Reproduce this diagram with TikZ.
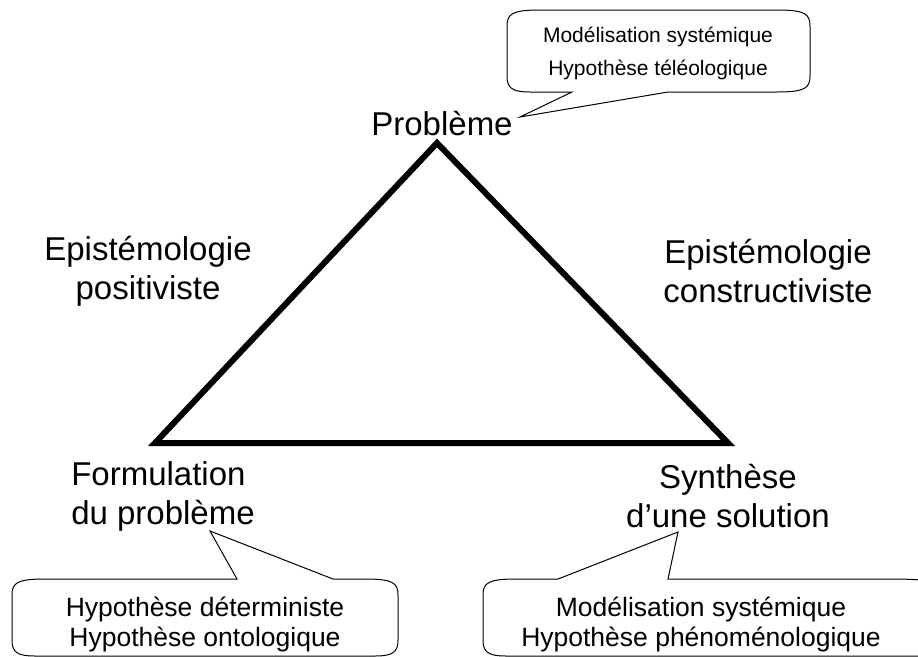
\documentclass[tikz,border=0pt]{standalone}
\usepackage{fontspec}
\setmainfont{Liberation Sans}
\begin{document}
\begin{tikzpicture}[x=1pt,y=-1pt,
  biglabel/.style={font=\fontsize{33}{39}\selectfont, align=center, inner sep=0pt},
  calltext/.style={font=\fontsize{26.5}{30}\selectfont, align=center, inner sep=0pt},
  smallcalltext/.style={font=\fontsize{21}{33}\selectfont, align=center, inner sep=0pt},
  callout/.style={draw=black, line width=1pt, fill=white},
  tri/.style={draw=black, line width=6pt, line join=miter}]
\useasboundingbox (0,0) rectangle (918,656);
% triangle corners
\coordinate (A) at (437,143);
\coordinate (B) at (155,443);
\coordinate (C) at (728,443);
\draw[tri] (A) -- (B) -- (C) -- cycle;
% labels
\node[biglabel] (prob) at (442,124) {Problème};
\node[biglabel] (pos) at (148,271) {Epistémologie\\positiviste};
\node[biglabel] (cons) at (768,271) {Epistémologie\\constructiviste};
\node[biglabel, align=left] (form) at (163,496) {Formulation\\du problème};
\node[biglabel] (synth) at (728,496) {Synthèse\\d’une solution};
% top callout
\coordinate (t1) at (520,117);
\draw[callout] (572,92) -- (530,92) .. controls (512,92) and (507,88) .. (507,76)
  -- (507,26) .. controls (507,14) and (512,10) .. (540,10) -- (777,10)
  .. controls (805,10) and (810,14) .. (810,26) -- (810,76)
  .. controls (810,88) and (805,92) .. (777,92) -- (668,92) -- (t1) -- cycle;
\node[smallcalltext] (ctop) at (658,53) {Modélisation systémique\\Hypothèse téléologique};
% bottom-left callout
\coordinate (t2) at (210,531);
\draw[callout] (237,579) -- (45,579) .. controls (17,579) and (12,583) .. (12,595)
  -- (12,640) .. controls (12,652) and (17,656) .. (35,656) -- (375,656)
  .. controls (393,656) and (398,652) .. (398,640) -- (398,595)
  .. controls (398,583) and (393,579) .. (365,579) -- (333,579) -- (t2) -- cycle;
\node[calltext] (cbl) at (205,624) {Hypothèse déterministe\\Hypothèse ontologique};
% bottom-right callout
\coordinate (t3) at (678,532);
\draw[callout] (558,579) -- (516,579) .. controls (488,579) and (483,583) .. (483,595)
  -- (483,640) .. controls (483,652) and (488,656) .. (506,656) -- (950,656)
  -- (950,595) .. controls (950,583) and (935,579) .. (890,579) -- (668,579) -- (t3) -- cycle;
\node[calltext] (cbr) at (701,624) {Modélisation systémique\\Hypothèse phénoménologique};
\end{tikzpicture}
\end{document}
